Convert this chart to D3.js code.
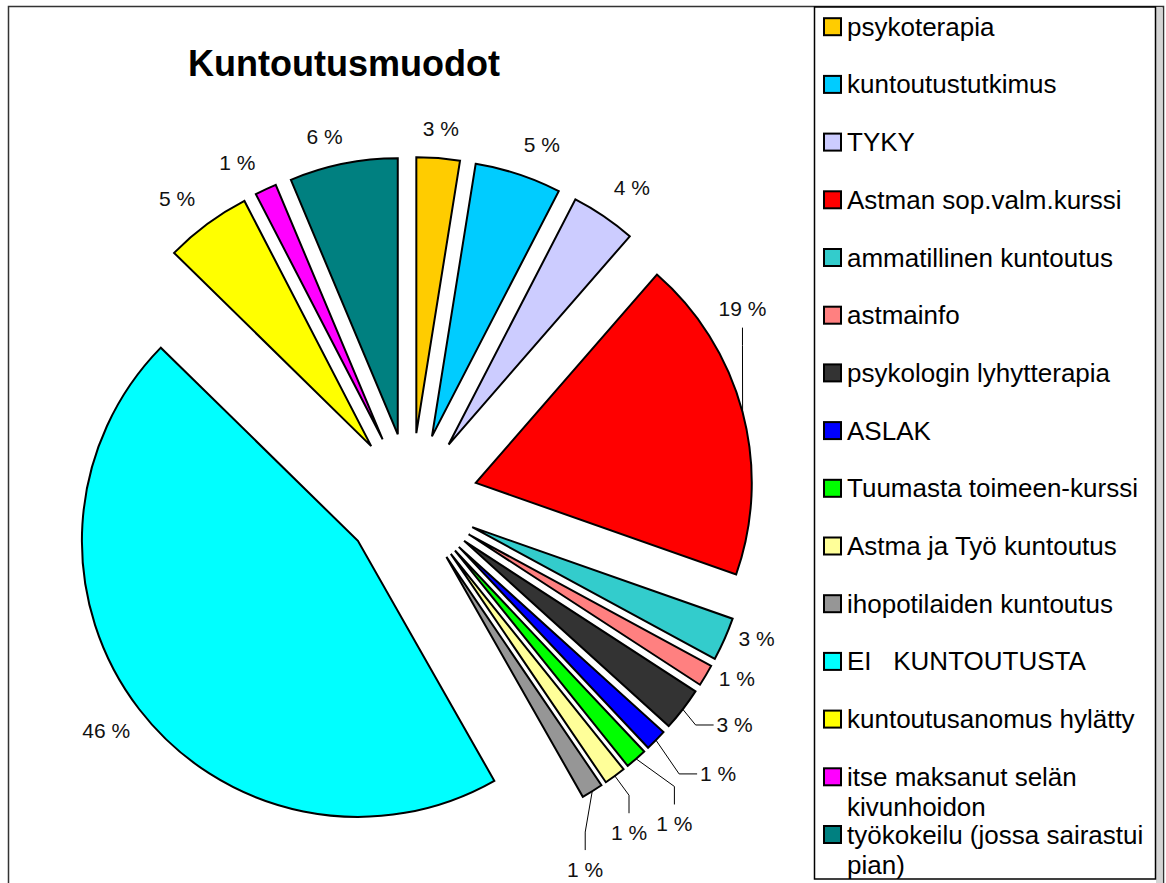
<!DOCTYPE html>
<html>
<head>
<meta charset="utf-8">
<script src="https://cdn.jsdelivr.net/npm/d3@7"></script>
<style>
body { margin: 0; background: #fff; }
svg { display: block; font-family: "Liberation Sans", Arial, sans-serif; }
</style>
</head>
<body>
<div id="chart"></div>
<script>
var title = "Kuntoutusmuodot";

var categories = [
    "psykoterapia",
    "kuntoutustutkimus",
    "TYKY",
    "Astman sop.valm.kurssi",
    "ammatillinen kuntoutus",
    "astmainfo",
    "psykologin lyhytterapia",
    "ASLAK",
    "Tuumasta toimeen-kurssi",
    "Astma ja Työ kuntoutus",
    "ihopotilaiden kuntoutus",
    "EI   KUNTOUTUSTA",
    "kuntoutusanomus hylätty",
    "itse maksanut selän kivunhoidon",
    "työkokeilu (jossa sairastui pian)"
];

var counts = [2, 4, 3, 15, 2, 1, 2, 1, 1, 1, 1, 36, 4, 1, 5];

var colors = [
    "#FFCC00", "#00CCFF", "#CCCCFF", "#FF0000", "#33CCCC",
    "#FF8080", "#333333", "#0000FF", "#00FF00", "#FFFF99",
    "#969696", "#00FFFF", "#FFFF00", "#FF00FF", "#008080"
];

// hand-moved data labels, offsets from the default spot (px)
var labelNudge = [
    [0, 4], [13, 3], [9, -1], [-33, -95], [1, -14],
    [2, -14], [25, -5], [38, 10], [16, 39], [-6, 29],
    [-25, 49], [-6, 1], [-10, 2], [-14, 4], [-12, 6]
];

var width = 1166;
var height = 883;

var cx = 411;
var cy = 500;
var radius = 276;
var explode = 67;
var labelDist = radius + 34;

var svg = d3.select("#chart").append("svg")
    .attr("width", width)
    .attr("height", height);

// outer chart frame
svg.append("rect")
    .attr("x", 8.5).attr("y", 6.5)
    .attr("width", 1155).attr("height", 900)
    .attr("fill", "none")
    .attr("stroke", "#333")
    .attr("stroke-width", 1.5);

svg.append("rect")
    .attr("x", 1156).attr("y", 7)
    .attr("width", 6).attr("height", 880)
    .attr("fill", "#d4d4d4");

svg.append("text")
    .attr("x", 344)
    .attr("y", 76)
    .attr("text-anchor", "middle")
    .attr("font-size", 36)
    .attr("font-weight", "bold")
    .text(title);

var total = d3.sum(counts);

var data = categories.map(function (c, i) {
    return {name: c, value: counts[i], color: colors[i], nudge: labelNudge[i]};
});

var pie = d3.pie()
    .sort(null)
    .value(function (d) { return d.value; });

var arc = d3.arc()
    .innerRadius(0)
    .outerRadius(radius);

var arcs = pie(data);

function dir(d) {
    var a = (d.startAngle + d.endAngle) / 2;
    return [Math.sin(a), -Math.cos(a)];
}

var pieG = svg.append("g")
    .attr("transform", "translate(" + cx + "," + cy + ")");

pieG.selectAll("path.slice")
    .data(arcs)
    .enter().append("path")
    .attr("class", "slice")
    .attr("transform", function (d) {
        var v = dir(d);
        return "translate(" + (v[0] * explode) + "," + (v[1] * explode) + ")";
    })
    .attr("d", arc)
    .attr("fill", function (d) { return d.data.color; })
    .attr("stroke", "#000")
    .attr("stroke-width", 2)
    .attr("stroke-linejoin", "miter");

// data labels
var labelSize = 21;
var labelG = pieG.append("g");

arcs.forEach(function (d) {
    var v = dir(d);
    var vx = v[0] * explode, vy = v[1] * explode;
    var lx = vx + v[0] * labelDist + d.data.nudge[0];
    var ly = vy + v[1] * labelDist + d.data.nudge[1];
    var pct = Math.round(d.data.value / total * 100) + " %";

    var t = labelG.append("text")
        .attr("x", lx)
        .attr("y", ly + 7.5)
        .attr("text-anchor", "middle")
        .attr("font-size", labelSize)
        .attr("fill", "#111")
        .text(pct);

    var moved = Math.sqrt(d.data.nudge[0] * d.data.nudge[0] + d.data.nudge[1] * d.data.nudge[1]);
    if (moved > 20) {
        var w = t.node().getComputedTextLength();
        var sx = vx + v[0] * radius, sy = vy + v[1] * radius;
        var dx = lx - sx, dy = ly - sy;
        var ax, ay, ex, ey;
        if (Math.abs(dx) > Math.abs(dy)) {
            ax = lx - Math.sign(dx) * (w / 2 + 3);
            ay = ly;
            ex = ax - Math.sign(dx) * 18;
            ey = ay;
        } else {
            ax = lx;
            ay = ly - Math.sign(dy) * 19;
            ex = ax;
            ey = ay - Math.sign(dy) * 18;
        }
        labelG.append("polyline")
            .attr("points", [[sx, sy], [ex, ey], [ax, ay]].map(function (p) { return p.join(","); }).join(" "))
            .attr("fill", "none")
            .attr("stroke", "#000")
            .attr("stroke-width", 1);
    }
});

// legend
var legendX = 814, legendY = 7;
var legendW = 341, legendH = 872;
var rowStart = 26.7, rowStep = 57.7;
var legendFont = 26;
var wrapW = 306;

svg.append("rect")
    .attr("x", legendX + 0.5).attr("y", legendY)
    .attr("width", legendW).attr("height", legendH)
    .attr("fill", "#fff")
    .attr("stroke", "#000")
    .attr("stroke-width", 1.5);

var legend = svg.append("g");

data.forEach(function (d, i) {
    var yc = rowStart + i * rowStep;
    legend.append("rect")
        .attr("x", 824).attr("y", yc - 8.5)
        .attr("width", 17).attr("height", 17)
        .attr("fill", d.color)
        .attr("stroke", "#000")
        .attr("stroke-width", 2);

    var text = legend.append("text")
        .attr("x", 847)
        .attr("y", yc + 9)
        .attr("font-size", legendFont)
        .style("white-space", "pre");

    // wrap long names like the original legend
    var words = d.name.split(" ");
    var line = [];
    var tspan = text.append("tspan").attr("x", 847).attr("dy", 0);
    words.forEach(function (w) {
        line.push(w);
        tspan.text(line.join(" "));
        if (tspan.node().getComputedTextLength() > wrapW && line.length > 1) {
            line.pop();
            tspan.text(line.join(" "));
            line = [w];
            tspan = text.append("tspan").attr("x", 847).attr("dy", 30).text(w);
        }
    });
});
</script>
</body>
</html>
